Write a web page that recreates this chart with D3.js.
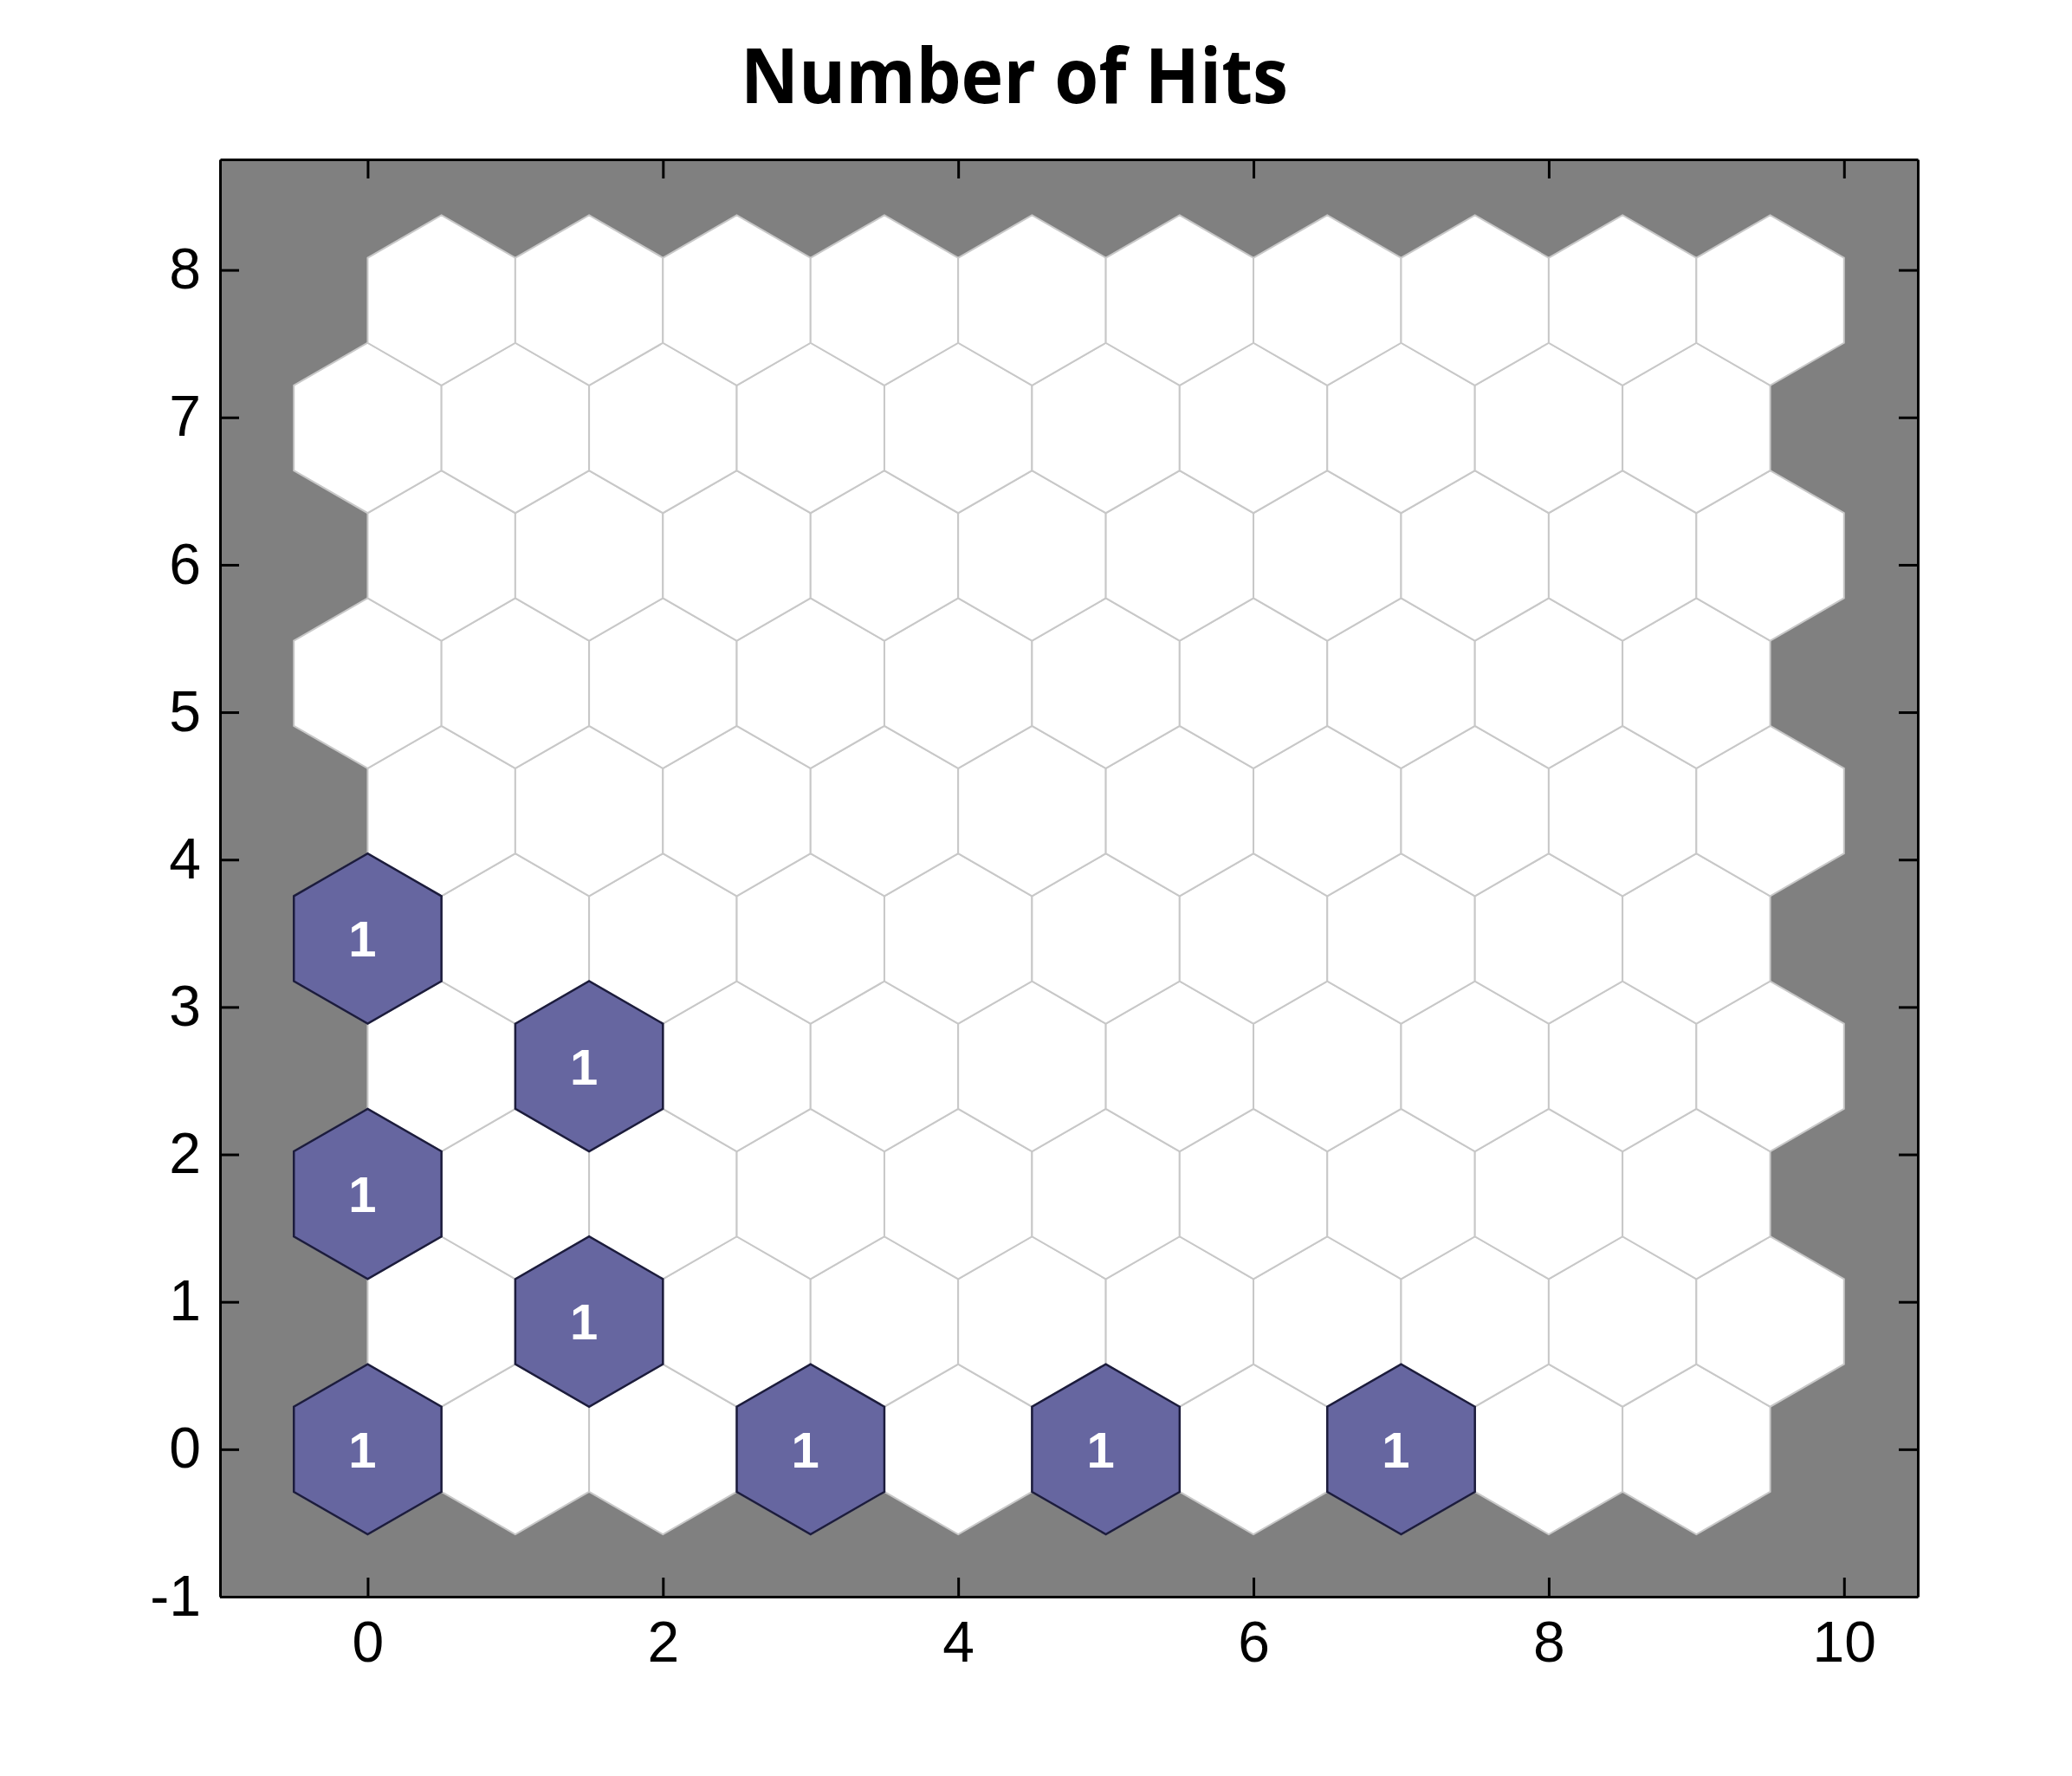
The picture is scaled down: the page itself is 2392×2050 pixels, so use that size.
<!DOCTYPE html>
<html>
<head>
<meta charset="utf-8">
<script src="https://cdn.jsdelivr.net/npm/d3@7"></script>
<style>
  html, body { margin: 0; padding: 0; background: #ffffff; }
  svg { display: block; }
</style>
</head>
<body>
<svg id="chart" width="2392" height="2050"></svg>
<script>
// ---- Data ----
const title = "Number of Hits";
const gridCols = 10;
const gridRows = 10;
// hits per neuron, row-major (row 0 = bottom row)
const hits = [
  1,0,0,1,0,1,0,1,0,0,   // row 0
  0,1,0,0,0,0,0,0,0,0,   // row 1
  1,0,0,0,0,0,0,0,0,0,   // row 2
  0,1,0,0,0,0,0,0,0,0,   // row 3
  1,0,0,0,0,0,0,0,0,0,   // row 4
  0,0,0,0,0,0,0,0,0,0,   // row 5
  0,0,0,0,0,0,0,0,0,0,   // row 6
  0,0,0,0,0,0,0,0,0,0,   // row 7
  0,0,0,0,0,0,0,0,0,0,   // row 8
  0,0,0,0,0,0,0,0,0,0    // row 9
];
const xTicks = [0, 2, 4, 6, 8, 10];
const yTicks = [-1, 0, 1, 2, 3, 4, 5, 6, 7, 8];
const xDomain = [-1, 10.5];
const yDomain = [-1, 8.75];

(function () {
// ---- Layout ----
const svg = d3.select("#chart");
const pL = 254, pR = 2214, pT = 184, pB = 1843;
const x = d3.scaleLinear().domain(xDomain).range([pL, pR]);
const y = d3.scaleLinear().domain(yDomain).range([pB, pT]);

// title
svg.append("text")
  .attr("x", 1171).attr("y", 119)
  .attr("text-anchor", "middle")
  .attr("font-family", "'Open Sans', 'Noto Sans', sans-serif")
  .attr("font-weight", "bold")
  .attr("font-size", 88)
  .attr("textLength", 632)
  .attr("lengthAdjust", "spacingAndGlyphs")
  .attr("fill", "#000")
  .text(title);

// plot background
svg.append("rect")
  .attr("x", pL).attr("y", pT)
  .attr("width", pR - pL).attr("height", pB - pT)
  .attr("fill", "#808080");

// neurons
const neurons = [];
for (let r = 0; r < gridRows; r++) {
  for (let c = 0; c < gridCols; c++) {
    neurons.push({
      cx: c + (r % 2 === 1 ? 0.5 : 0),
      cy: r * Math.sqrt(3) / 2,
      h: hits[r * gridCols + c]
    });
  }
}
const maxHits = d3.max(hits);
const rad = 1 / Math.sqrt(3);
function hexPath(cx, cy, s) {
  const pts = d3.range(6).map(k => {
    const a = Math.PI / 6 + k * Math.PI / 3;
    return [x(cx + s * rad * Math.cos(a)), y(cy + s * rad * Math.sin(a))];
  });
  return "M" + pts.map(p => p.join(",")).join("L") + "Z";
}

const g = svg.append("g");
g.selectAll("path.cell").data(neurons).enter().append("path")
  .attr("class", "cell")
  .attr("d", d => hexPath(d.cx, d.cy, 1))
  .attr("fill", "#ffffff")
  .attr("stroke", "#c8c8c8")
  .attr("stroke-width", 2);

const hitN = neurons.filter(d => d.h > 0);
g.selectAll("path.hit").data(hitN).enter().append("path")
  .attr("class", "hit")
  .attr("d", d => hexPath(d.cx, d.cy, Math.sqrt(d.h / maxHits)))
  .attr("fill", "#6666a0")
  .attr("stroke", "#1c1c3c")
  .attr("stroke-width", 2.5);

g.selectAll("text.hitlabel").data(hitN).enter().append("text")
  .attr("class", "hitlabel")
  .attr("x", d => x(d.cx) - 6)
  .attr("y", d => y(d.cy))
  .attr("dy", "0.36em")
  .attr("text-anchor", "middle")
  .attr("font-family", "'Liberation Sans', Arial, sans-serif")
  .attr("font-weight", "bold")
  .attr("font-size", 58)
  .attr("fill", "#ffffff")
  .text(d => d.h);

// axes (ticks inside, box)
const tickLen = 22;
const fontAxis = "'Liberation Sans', Arial, sans-serif";
const fmt = d => String(d);
const xAxisB = d3.axisBottom(x).tickValues(xTicks).tickFormat(fmt).tickSizeInner(-tickLen).tickSizeOuter(0).tickPadding(28);
const xAxisT = d3.axisTop(x).tickValues(xTicks).tickSizeInner(-tickLen).tickSizeOuter(0).tickFormat("");
const yAxisL = d3.axisLeft(y).tickValues(yTicks).tickFormat(fmt).tickSizeInner(-tickLen).tickSizeOuter(0).tickPadding(22);
const yAxisR = d3.axisRight(y).tickValues(yTicks).tickSizeInner(-tickLen).tickSizeOuter(0).tickFormat("");

function styleAxis(sel) {
  sel.select(".domain").attr("stroke", "#000").attr("stroke-width", 3);
  sel.selectAll(".tick line").attr("stroke", "#000").attr("stroke-width", 3);
  sel.selectAll(".tick text").attr("font-family", fontAxis).attr("font-size", 66).attr("fill", "#000");
}
svg.append("g").attr("transform", `translate(0,${pB})`).call(xAxisB).call(styleAxis);
svg.append("g").attr("transform", `translate(0,${pT})`).call(xAxisT).call(styleAxis);
svg.append("g").attr("transform", `translate(${pL},0)`).call(yAxisL).call(styleAxis);
svg.append("g").attr("transform", `translate(${pR},0)`).call(yAxisR).call(styleAxis);
})();
</script>
</body>
</html>
